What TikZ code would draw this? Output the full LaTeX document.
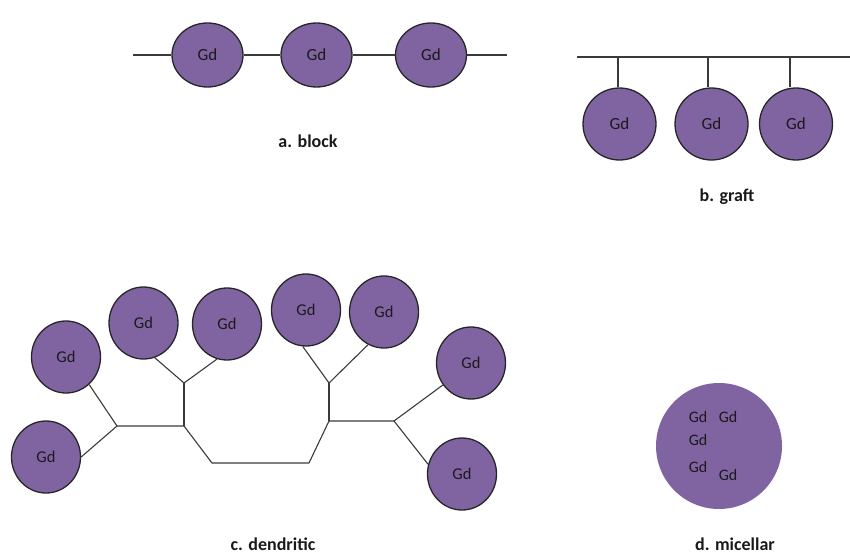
\documentclass[tikz,border=0pt]{standalone}
\usepackage{fontspec}
\setmainfont{Carlito}
\usetikzlibrary{shapes.geometric}
\definecolor{gdpurple}{HTML}{8064A2}
\definecolor{rim}{HTML}{262626}
\definecolor{wire}{HTML}{3A3A3A}
\definecolor{ink}{HTML}{1A1A1A}
\tikzset{
  gdball/.style={ellipse, fill=gdpurple, draw=rim, line width=1.3pt, inner sep=0pt,
    text=ink, font=\fontsize{16.5}{16.5}\selectfont},
  blockball/.style={gdball, minimum width=71pt, minimum height=64pt, font=\fontsize{17}{17}\selectfont},
  graftball/.style={gdball, minimum width=73pt, minimum height=72pt, font=\fontsize{17}{17}\selectfont},
  dendball/.style={gdball, minimum width=69pt, minimum height=72pt},
  wireline/.style={draw=wire, line width=1.1pt, line join=round},
  caption/.style={font=\fontsize{18}{18}\selectfont\bfseries, text=ink},
  micgd/.style={font=\fontsize{16}{16}\selectfont, text=ink, inner sep=0pt}
}
\begin{document}
\begin{tikzpicture}[x=1pt,y=-1pt]
\useasboundingbox (0,0) rectangle (850,554);
% a. block
\coordinate (bl) at (133,55);
\coordinate (br) at (507,55);
\node[blockball] (b1) at (207.5,55) {Gd};
\node[blockball] (b2) at (316.5,55) {Gd};
\node[blockball] (b3) at (431,55) {Gd};
\draw[wireline] (bl) -- (b1) (b1) -- (b2) (b2) -- (b3) (b3) -- (br);
\node[caption] (capa) at (308,141) {a. block};
% b. graft
\coordinate (gl) at (577,57);
\coordinate (gr) at (850,57);
\coordinate (ga1) at (618,57);
\coordinate (ga2) at (708,57);
\coordinate (ga3) at (790,57);
\node[graftball] (g1) at (619.5,124) {Gd};
\node[graftball] (g2) at (711.5,124) {Gd};
\node[graftball] (g3) at (796,124) {Gd};
\draw[wireline] (gl) -- (gr);
\draw[wireline] (ga1) -- (ga1 |- g1.north);
\draw[wireline] (ga2) -- (ga2 |- g2.north);
\draw[wireline] (ga3) -- (ga3 |- g3.north);
\node[caption] (capb) at (727,197) {b. graft};
% c. dendritic
\node[dendball] (L1) at (66,357) {Gd};
\node[dendball] (L2) at (46,457) {Gd};
\node[dendball] (T1) at (143.5,323) {Gd};
\node[dendball] (T2) at (227,324) {Gd};
\node[dendball] (T3) at (306,310) {Gd};
\node[dendball] (T4) at (384,312) {Gd};
\node[dendball] (R1) at (471,363) {Gd};
\node[dendball] (R2) at (462,474) {Gd};
\coordinate (J1) at (117,426);
\coordinate (J2) at (184,426);
\coordinate (J3) at (184,383);
\coordinate (K1) at (212,463);
\coordinate (K2) at (309,463);
\coordinate (J4) at (329,421);
\coordinate (J5) at (329,383);
\coordinate (J6) at (394,421);
\draw[wireline] (L1.-50) -- (J1) -- (L2.east);
\draw[wireline] (J1) -- (J2) -- (K1) -- (K2) -- (J4) -- (J6);
\draw[wireline] (J2) -- (J3);
\draw[wireline] (T1.-72) -- (J3) -- (T2.-106);
\draw[wireline] (J4) -- (J5);
\draw[wireline] (T3.-95) -- (J5) -- (T4.-116);
\draw[wireline] (R1.218) -- (J6) -- (R2.164);
\node[caption] (capc) at (273,544) {c. dendritic};
% d. micellar
\node[circle, fill=gdpurple, minimum size=126pt, inner sep=0pt] (mic) at (719,446) {};
\node[micgd] (m1) at (698,417) {Gd};
\node[micgd] (m2) at (728,417) {Gd};
\node[micgd] (m3) at (698,440) {Gd};
\node[micgd] (m4) at (698,467) {Gd};
\node[micgd] (m5) at (728,475) {Gd};
\node[caption] (capd) at (735,544) {d. micellar};
\end{tikzpicture}
\end{document}
